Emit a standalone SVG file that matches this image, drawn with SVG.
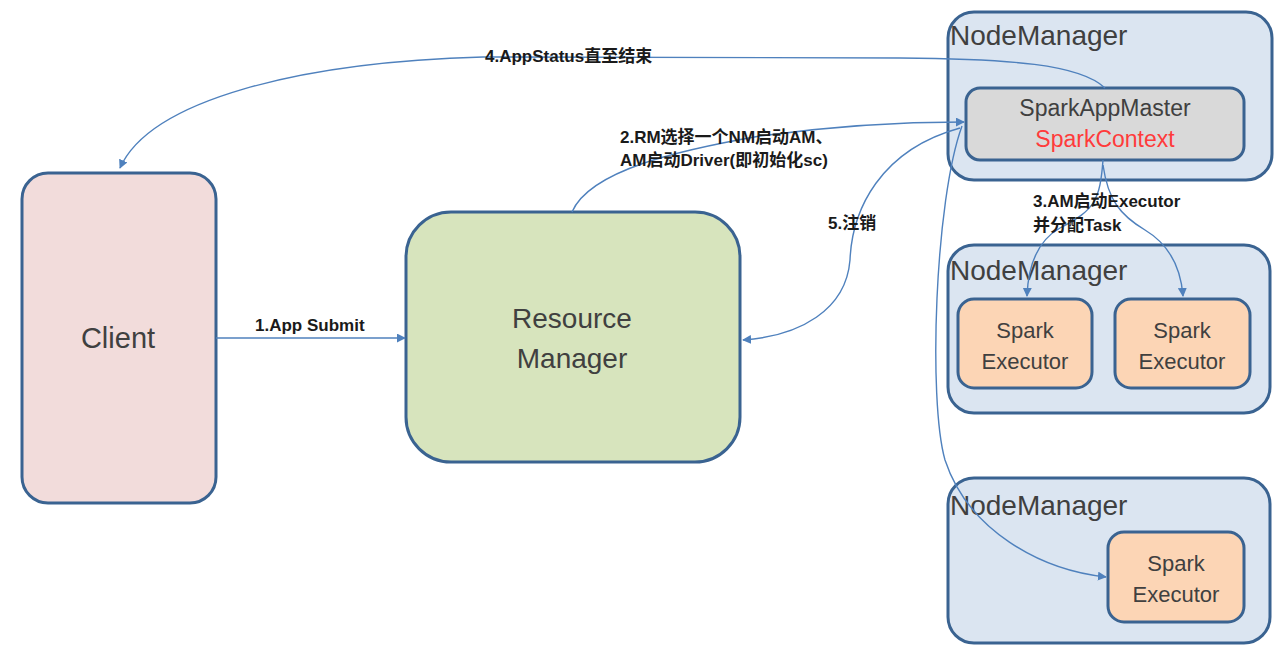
<svg xmlns="http://www.w3.org/2000/svg" width="1286" height="657" viewBox="0 0 1286 657">
<style>
.box{stroke:#3a6391;stroke-width:3}
.t{font-family:"Liberation Sans","Noto Sans CJK SC",sans-serif;fill:#404040;text-anchor:middle}
.nm{font-family:"Liberation Sans",sans-serif;fill:#404040;font-size:28px}
.lbl{font-family:"Liberation Sans","Noto Sans CJK SC",sans-serif;fill:#1a1a1a;font-size:17px;font-weight:bold}
.c{fill:none;stroke:#4f81bd;stroke-width:1.4;marker-end:url(#ah)}
</style>
<defs>
<marker id="ah" viewBox="0 0 10 10" refX="9" refY="5" markerWidth="9" markerHeight="9" markerUnits="userSpaceOnUse" orient="auto">
<path d="M0,0 L10,5 L0,10 z" fill="#4f81bd"/>
</marker>
</defs>
<rect width="1286" height="657" fill="#ffffff"/>

<g id="client">
<rect class="box" x="22" y="173" width="194" height="330" rx="26" fill="#f2dcdb"/>
<text class="t" x="118" y="348" font-size="29">Client</text>
</g>

<g id="rm">
<rect class="box" x="406" y="212" width="334" height="250" rx="45" fill="#d7e4bd"/>
<text class="t" x="572" y="328" font-size="28">Resource</text>
<text class="t" x="572" y="368" font-size="28">Manager</text>
</g>

<g id="nm1">
<rect class="box" x="948" y="12" width="324" height="168" rx="26" fill="#dbe5f1"/>
<text class="nm" x="950" y="45">NodeManager</text>
</g>
<g id="am">
<rect class="box" x="966" y="88" width="278" height="72" rx="14" fill="#d9d9d9"/>
<text class="t" x="1105" y="116" font-size="23">SparkAppMaster</text>
<text class="t" x="1105" y="147" font-size="23" style="fill:#ff3b3b">SparkContext</text>
</g>

<g id="nm2">
<rect class="box" x="948" y="245" width="322" height="168" rx="26" fill="#dbe5f1"/>
<text class="nm" x="950" y="280">NodeManager</text>
</g>
<g id="exec1">
<rect class="box" x="958" y="299" width="134" height="89" rx="16" fill="#fcd5b5"/>
<text class="t" x="1025" y="338" font-size="22">Spark</text>
<text class="t" x="1025" y="369" font-size="22">Executor</text>
</g>
<g id="exec2">
<rect class="box" x="1115" y="299" width="135" height="89" rx="16" fill="#fcd5b5"/>
<text class="t" x="1182" y="338" font-size="22">Spark</text>
<text class="t" x="1182" y="369" font-size="22">Executor</text>
</g>

<g id="nm3">
<rect class="box" x="948" y="478" width="322" height="165" rx="26" fill="#dbe5f1"/>
<text class="nm" x="950" y="515">NodeManager</text>
</g>
<g id="exec3">
<rect class="box" x="1108" y="532" width="136" height="90" rx="16" fill="#fcd5b5"/>
<text class="t" x="1176" y="571" font-size="22">Spark</text>
<text class="t" x="1176" y="602" font-size="22">Executor</text>
</g>

<g id="connectors">
<path class="c" d="M216,338 L405,338"/>
<path class="c" d="M572,212 C590,170 680,150 760,136 C840,125 900,122 964,122"/>
<path class="c" d="M960,128 C880,150 852,210 850,260 C846,310 800,336 743,340"/>
<path class="c" d="M1105,88 C1080,64 1010,59 900,58 L483,57 C300,62 150,100 120,168"/>
<path class="c" d="M1103,160 C1100,200 1095,210 1060,228 C1035,242 1028,270 1027,296"/>
<path class="c" d="M1103,165 C1108,200 1120,215 1145,230 C1170,245 1181,270 1183,296"/>
<path class="c" d="M962,126 C935,200 928,400 945,460 C968,530 1040,570 1106,577"/>
</g>

<g id="labels">
<text class="lbl" x="255" y="331">1.App Submit</text>
<text class="lbl" x="485" y="62">4.AppStatus直至结束</text>
<text class="lbl" x="620" y="143">2.RM选择一个NM启动AM、</text>
<text class="lbl" x="620" y="166">AM启动Driver(即初始化sc)</text>
<text class="lbl" x="828" y="229">5.注销</text>
<text class="lbl" x="1033" y="207">3.AM启动Executor</text>
<text class="lbl" x="1033" y="231">并分配Task</text>
</g>
</svg>
